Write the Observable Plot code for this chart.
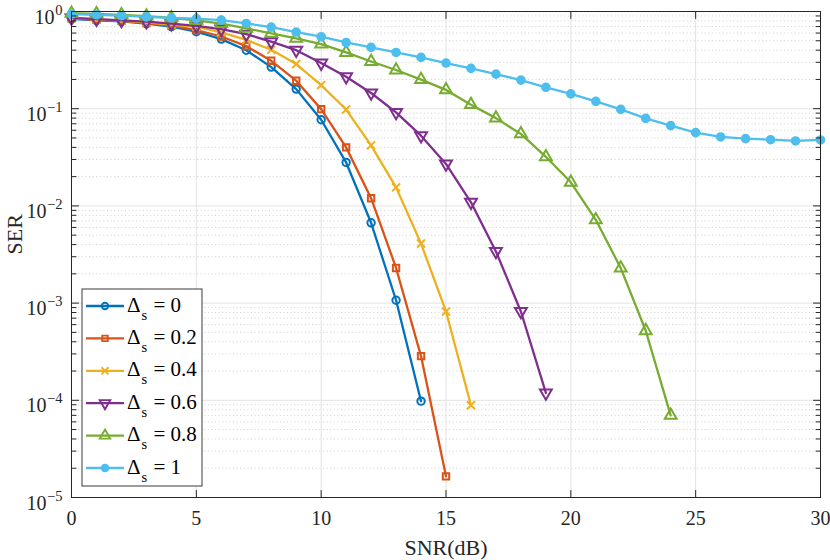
<!DOCTYPE html>
<html>
<head>
<meta charset="utf-8">
<script src="https://cdn.jsdelivr.net/npm/d3@7"></script>
<script src="https://cdn.jsdelivr.net/npm/@observablehq/plot@0.6"></script>
</head>
<body style="margin:0;background:#fff">
<div id="chart"></div>
<script>
// ---------- data ----------
const snrDb = [0,1,2,3,4,5,6,7,8,9,10,11,12,13,14,15,16,17,18,19,20,21,22,23,24,25,26,27,28,29,30];
const serD0  = [0.84,0.81,0.79,0.75,0.70,0.62,0.52,0.40,0.268,0.159,0.077,0.028,0.0067,0.00107,0.000098];
const serD02 = [0.85,0.82,0.80,0.76,0.715,0.645,0.553,0.44,0.311,0.194,0.099,0.040,0.012,0.0023,0.000285,0.0000165];
const serD04 = [0.855,0.83,0.805,0.775,0.735,0.70,0.61,0.51,0.404,0.288,0.175,0.098,0.042,0.0155,0.0041,0.00082,0.000089];
const serD06 = [0.86,0.835,0.81,0.785,0.75,0.71,0.66,0.585,0.49,0.40,0.295,0.213,0.145,0.0916,0.0528,0.027,0.0109,0.0034,0.00082,0.000119];
const serD08 = [0.96,0.945,0.925,0.895,0.86,0.81,0.75,0.67,0.597,0.53,0.462,0.379,0.306,0.25,0.199,0.156,0.11,0.080,0.055,0.032,0.0175,0.0072,0.00229,0.00052,0.00007];
const serD1  = [0.94,0.925,0.905,0.88,0.86,0.845,0.815,0.753,0.69,0.615,0.55,0.48,0.427,0.379,0.337,0.295,0.26,0.227,0.197,0.166,0.142,0.119,0.0984,0.0795,0.0669,0.0567,0.0512,0.0492,0.048,0.0466,0.0477];
const deltaLabels = ["0","0.2","0.4","0.6","0.8","1"];
const xTicks = [0,5,10,15,20,25,30];
const yTicks = [1,0.1,0.01,0.001,0.0001,0.00001];
const yTickExps = ["0","\u22121","\u22122","\u22123","\u22124","\u22125"];

// ---------- styling ----------
const seriesValues = [serD0, serD02, serD04, serD06, serD08, serD1];
const colors = ["#0072BD","#D95319","#EDB120","#7E2F8E","#77AC30","#4DBEEE"];
const symbols = [d3.symbolCircle, d3.symbolSquare, d3.symbolTimes, d3.symbolTriangle, d3.symbolTriangle, d3.symbolCircle];
const radii = [3.7, 3.6, 3.7, 4.4, 4.4, 3.8];
const legendRadii = [3.2, 3.1, 3.3, 3.9, 3.9, 3.4];
const rotations = [0, 0, 0, 180, 0, 0];
const fills = ["none","none","none","none","none","#4DBEEE"];

const series = seriesValues.map((vals, k) => ({
  k, label: deltaLabels[k], color: colors[k], symbol: symbols[k], r: radii[k], lr: legendRadii[k], rotate: rotations[k], fill: fills[k],
  rows: vals.map((v, i) => ({snr: snrDb[i], ser: v}))
}));

const yMinor = yTicks.slice(1).flatMap(d => [2,3,4,5,6,7,8,9].map(m => d * m));
const axisColor = "#262626";
const tickShape = {draw(ctx, l) { ctx.moveTo(0, 0); ctx.lineTo(0, -l); }};
const FONT = "Liberation Serif";

const marks = [
  Plot.ruleY(yMinor, {y: d => d, stroke: "#c9c9c9", strokeWidth: 0.9, strokeDasharray: "1,2.6"}),
  Plot.ruleY(yTicks.slice(1, -1), {y: d => d, stroke: "#e3e3e3", strokeWidth: 1}),
  Plot.ruleX(xTicks.slice(1, -1), {x: d => d, stroke: "#e3e3e3", strokeWidth: 1}),
];

for (const s of series) {
  marks.push(Plot.line(s.rows, {x: "snr", y: "ser", stroke: s.color, strokeWidth: 2.3}));
  marks.push(Plot.dot(s.rows, {x: "snr", y: "ser", symbol: s.symbol, r: s.r, stroke: s.color, fill: s.fill, strokeWidth: 2, rotate: s.rotate}));
}

marks.push(
  Plot.frame({stroke: axisColor, strokeWidth: 1}),
  Plot.vector(yTicks, {x: () => 0, y: d => d, length: 7, rotate: 90, anchor: "start", shape: tickShape, stroke: axisColor, strokeWidth: 1}),
  Plot.vector(yMinor, {x: () => 0, y: d => d, length: 4.5, rotate: 90, anchor: "start", shape: tickShape, stroke: axisColor, strokeWidth: 1}),
  Plot.vector(yTicks, {x: () => 30, y: d => d, length: 7, rotate: -90, anchor: "start", shape: tickShape, stroke: axisColor, strokeWidth: 1}),
  Plot.vector(yMinor, {x: () => 30, y: d => d, length: 4.5, rotate: -90, anchor: "start", shape: tickShape, stroke: axisColor, strokeWidth: 1}),
  Plot.vector(xTicks, {x: d => d, y: () => 1e-5, length: 7, rotate: 0, anchor: "start", shape: tickShape, stroke: axisColor, strokeWidth: 1}),
  Plot.vector(xTicks, {x: d => d, y: () => 1, length: 7, rotate: 180, anchor: "start", shape: tickShape, stroke: axisColor, strokeWidth: 1}),
  Plot.text(xTicks, {x: d => d, y: () => 1e-5, text: d => String(d), dy: 21, lineAnchor: "middle", fontSize: 20, fill: axisColor, fontFamily: FONT}),
  Plot.text(yTicks.slice(0, 1), {x: () => 0, y: d => d, text: () => "10", textAnchor: "end", lineAnchor: "bottom", dx: -17, dy: 12, fontSize: 20, fill: axisColor, fontFamily: FONT}),
  Plot.text(yTicks.slice(1), {x: () => 0, y: d => d, text: () => "10", textAnchor: "end", lineAnchor: "bottom", dx: -25, dy: 12, fontSize: 20, fill: axisColor, fontFamily: FONT}),
  Plot.text(yTicks, {x: () => 0, y: d => d, text: (d, i) => yTickExps[i], textAnchor: "end", lineAnchor: "bottom", dx: -9, dy: 3, fontSize: 14.5, fill: axisColor, fontFamily: FONT}),
  Plot.text(["SNR(dB)"], {frameAnchor: "bottom", text: d => d, dy: 50, lineAnchor: "middle", fontSize: 22, fill: axisColor, fontFamily: FONT}),
  Plot.text(["SER"], {frameAnchor: "left", text: d => d, dx: -57, rotate: -90, lineAnchor: "middle", fontSize: 22, fill: axisColor, fontFamily: FONT})
);

const chart = Plot.plot({
  width: 830, height: 560,
  marginLeft: 71, marginRight: 10, marginTop: 11, marginBottom: 63,
  x: {domain: [0, 30], axis: null},
  y: {type: "log", domain: [1e-5, 1], axis: null},
  marks
});

const svg = d3.select(chart).attr("font-family", FONT).style("overflow", "visible");

// ---------- legend ----------
const lg = svg.append("g");
lg.append("rect").attr("x", 82).attr("y", 289).attr("width", 120).attr("height", 197)
  .attr("fill", "#fff").attr("stroke", "#3a3a3a").attr("stroke-width", 1);
series.forEach((s, i) => {
  const cy = 306 + i * 32.4;
  lg.append("line").attr("x1", 86).attr("x2", 124).attr("y1", cy).attr("y2", cy)
    .attr("stroke", s.color).attr("stroke-width", 2.3);
  lg.append("path").attr("d", d3.symbol().type(s.symbol).size(Math.PI * s.lr * s.lr)())
    .attr("transform", `translate(105,${cy}) rotate(${s.rotate})`)
    .attr("fill", s.fill).attr("stroke", s.color).attr("stroke-width", 1.9);
  lg.append("text").attr("x", 127).attr("y", cy + 5.5).attr("font-family", FONT).attr("font-size", 21).attr("text-anchor", "start").attr("fill", "#000").text("\u0394");
  lg.append("text").attr("x", 141.5).attr("y", cy + 13.5).attr("font-family", FONT).attr("font-size", 14.5).attr("text-anchor", "start").attr("fill", "#000").text("s");
  lg.append("text").attr("x", 153.5).attr("y", cy + 5.5).attr("font-family", FONT).attr("font-size", 21).attr("text-anchor", "start").attr("fill", "#000").text("= " + s.label);
});

document.getElementById("chart").appendChild(chart);
</script>
</body>
</html>
